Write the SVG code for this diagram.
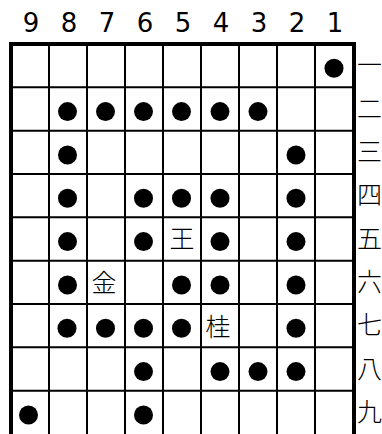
<svg xmlns="http://www.w3.org/2000/svg" width="382" height="434" viewBox="0 0 382 434">
<style>
.num{font-family:"DejaVu Sans",Verdana,sans-serif;font-size:26px;fill:#000;text-anchor:middle}
.kan{font-family:"Noto Sans CJK JP","Noto Sans CJK SC",sans-serif;font-size:25px;font-weight:300;fill:#000}
.pc{font-family:"Noto Sans CJK JP","Noto Sans CJK SC",sans-serif;font-size:25px;font-weight:300;fill:#000;text-anchor:middle}
.thin{stroke:#000;stroke-width:2;fill:none}
.dot{fill:#000}
</style>
<rect width="382" height="434" fill="#fff"/>
<g id="files">
<text class="num" x="31" y="32">9</text>
<text class="num" x="69" y="32">8</text>
<text class="num" x="107" y="32">7</text>
<text class="num" x="145" y="32">6</text>
<text class="num" x="183" y="32">5</text>
<text class="num" x="221" y="32">4</text>
<text class="num" x="259" y="32">3</text>
<text class="num" x="297" y="32">2</text>
<text class="num" x="335" y="32">1</text>
</g>
<g id="ranks">
<text class="kan" x="357" y="74">一</text>
<text class="kan" x="357" y="118">二</text>
<text class="kan" x="357" y="161">三</text>
<text class="kan" x="357" y="204">四</text>
<text class="kan" x="357" y="248">五</text>
<text class="kan" x="357" y="291">六</text>
<text class="kan" x="357" y="334">七</text>
<text class="kan" x="357" y="378">八</text>
<text class="kan" x="357" y="421">九</text>
</g>
<g id="grid">
<path class="thin" d="M49 44V440M87 44V440M125 44V440M163 44V440M201 44V440M239 44V440M277 44V440M315 44V440"/>
<path class="thin" d="M11 87.3H353M11 130.7H353M11 174H353M11 217.3H353M11 260.7H353M11 304H353M11 347.3H353M11 390.7H353"/>
<rect x="11" y="44" width="343" height="400" fill="none" stroke="#000" stroke-width="4"/>
</g>
<g id="pieces">
<circle class="dot" cx="334" cy="68.3" r="9.5"/>
<circle class="dot" cx="67.5" cy="111.6" r="9.5"/>
<circle class="dot" cx="105.5" cy="111.6" r="9.5"/>
<circle class="dot" cx="143.5" cy="111.6" r="9.5"/>
<circle class="dot" cx="181.5" cy="111.6" r="9.5"/>
<circle class="dot" cx="220" cy="111.6" r="9.5"/>
<circle class="dot" cx="258" cy="111.6" r="9.5"/>
<circle class="dot" cx="67.5" cy="155" r="9.5"/>
<circle class="dot" cx="296" cy="155" r="9.5"/>
<circle class="dot" cx="67.5" cy="198.3" r="9.5"/>
<circle class="dot" cx="143.5" cy="198.3" r="9.5"/>
<circle class="dot" cx="181.5" cy="198.3" r="9.5"/>
<circle class="dot" cx="220" cy="198.3" r="9.5"/>
<circle class="dot" cx="296" cy="198.3" r="9.5"/>
<circle class="dot" cx="67.5" cy="241.6" r="9.5"/>
<circle class="dot" cx="143.5" cy="241.6" r="9.5"/>
<text class="pc" x="182" y="248">王</text>
<circle class="dot" cx="220" cy="241.6" r="9.5"/>
<circle class="dot" cx="296" cy="241.6" r="9.5"/>
<circle class="dot" cx="67.5" cy="285" r="9.5"/>
<text class="pc" x="104" y="292">金</text>
<circle class="dot" cx="181.5" cy="285" r="9.5"/>
<circle class="dot" cx="220" cy="285" r="9.5"/>
<circle class="dot" cx="296" cy="285" r="9.5"/>
<circle class="dot" cx="67" cy="328.3" r="9.5"/>
<circle class="dot" cx="105.5" cy="328.3" r="9.5"/>
<circle class="dot" cx="143.5" cy="328.3" r="9.5"/>
<circle class="dot" cx="181.5" cy="328.3" r="9.5"/>
<text class="pc" x="218" y="336">桂</text>
<circle class="dot" cx="296" cy="328.3" r="9.5"/>
<circle class="dot" cx="143.5" cy="371.6" r="9.5"/>
<circle class="dot" cx="220" cy="371.6" r="9.5"/>
<circle class="dot" cx="258" cy="371.6" r="9.5"/>
<circle class="dot" cx="296" cy="371.6" r="9.5"/>
<circle class="dot" cx="28.5" cy="415" r="9.5"/>
<circle class="dot" cx="143.5" cy="415" r="9.5"/>
</g>
</svg>
